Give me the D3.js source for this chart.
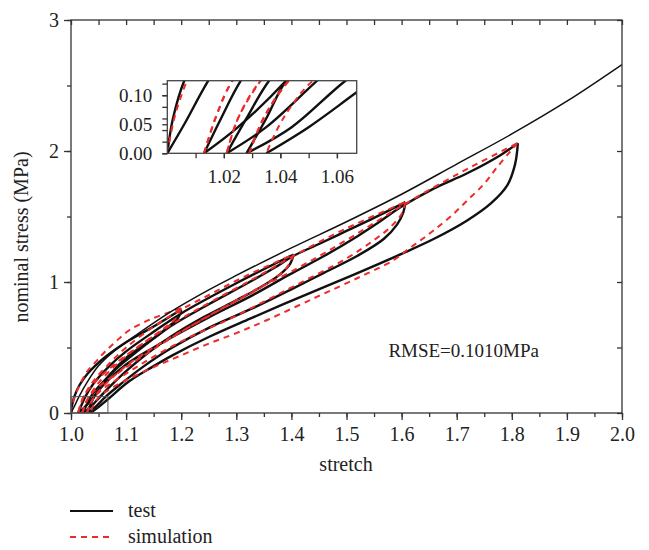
<!DOCTYPE html>
<html>
<head>
<meta charset="utf-8">
<script src="https://cdn.jsdelivr.net/npm/d3@7/dist/d3.min.js"></script>
<style>
  body { margin: 0; background: #fff; }
  svg text { font-family: "Liberation Serif", "DejaVu Serif", serif; fill: #222; }
</style>
</head>
<body>
<div id="graph"></div>
<script>
// [stretch, nominal stress (MPa)]
// test: monotonic loading up to 2.0
const testMono = [[1.0,0],[1.006,0.05],[1.0145,0.125],[1.03,0.24],[1.05,0.36],[1.075,0.46],[1.12,0.6],
  [1.18,0.77],[1.25,0.94],[1.3,1.05],[1.4,1.26],[1.5,1.46],[1.6,1.67],[1.7,1.9],[1.8,2.13],[1.9,2.38],[2.0,2.66]];
// test: cyclic loading / unloading
const testLoad1 = [[1.0,0],[1.002,0.06],[1.006,0.125],[1.015,0.21],[1.03,0.3],[1.06,0.42],[1.1,0.54],[1.15,0.66],[1.2,0.79]];
const testUnload1 = [[1.2,0.79],[1.195,0.73],[1.18,0.67],[1.15,0.57],[1.1,0.42],[1.07,0.29],[1.042,0.125],[1.025,0.045],[1.013,0]];
const testLoad2 = [[1.013,0],[1.019,0.06],[1.026,0.125],[1.04,0.22],[1.07,0.36],[1.1,0.47],[1.15,0.62],[1.2,0.76],[1.3,0.99],[1.404,1.21]];
const testUnload2 = [[1.404,1.21],[1.398,1.14],[1.38,1.06],[1.344,0.96],[1.3,0.86],[1.24,0.73],[1.18,0.58],[1.14,0.46],[1.1,0.32],[1.075,0.22],[1.053,0.125],[1.035,0.045],[1.021,0]];
const testLoad3 = [[1.021,0],[1.028,0.06],[1.036,0.125],[1.05,0.2],[1.08,0.33],[1.12,0.47],[1.18,0.66],[1.25,0.83],[1.32,0.99],[1.37,1.11],[1.404,1.2],[1.45,1.29],[1.5,1.39],[1.55,1.49],[1.607,1.61]];
const testUnload3 = [[1.607,1.61],[1.603,1.53],[1.592,1.44],[1.568,1.33],[1.52,1.2],[1.459,1.07],[1.398,0.94],[1.33,0.8],[1.25,0.65],[1.18,0.49],[1.13,0.35],[1.09,0.22],[1.063,0.125],[1.044,0.045],[1.028,0]];
const testLoad4 = [[1.028,0],[1.035,0.06],[1.042,0.125],[1.06,0.22],[1.1,0.37],[1.15,0.5],[1.25,0.73],[1.33,0.9],[1.398,1.06],[1.46,1.2],[1.52,1.35],[1.56,1.46],[1.598,1.57],[1.659,1.715],[1.719,1.83],[1.78,1.97],[1.811,2.06]];
const testUnload4 = [[1.811,2.06],[1.806,1.9],[1.792,1.74],[1.762,1.6],[1.719,1.47],[1.659,1.33],[1.6,1.215],[1.507,1.045],[1.416,0.885],[1.325,0.72],[1.25,0.58],[1.184,0.44],[1.147,0.35],[1.105,0.24],[1.067,0.105],[1.05,0.045],[1.035,0]];

// simulation
const simLoad1 = [[1.0,0],[1.003,0.07],[1.01,0.16],[1.02,0.25],[1.03,0.32],[1.047,0.4],[1.062,0.47],[1.08,0.54],[1.105,0.63],[1.147,0.72],[1.2,0.8]];
const simUnload1 = [[1.2,0.8],[1.19,0.72],[1.17,0.65],[1.13,0.53],[1.1,0.44],[1.07,0.34],[1.04,0.22],[1.023,0.125],[1.017,0.06],[1.013,0]];
const simLoad2 = [[1.013,0],[1.017,0.06],[1.023,0.125],[1.04,0.24],[1.07,0.38],[1.1,0.5],[1.15,0.66],[1.2,0.79],[1.25,0.9],[1.3,1.01],[1.35,1.11],[1.404,1.21]];
const simUnload2 = [[1.404,1.21],[1.39,1.1],[1.36,1.0],[1.32,0.9],[1.27,0.79],[1.2,0.62],[1.14,0.46],[1.09,0.32],[1.05,0.2],[1.033,0.125],[1.025,0.06],[1.021,0]];
const simLoad3 = [[1.021,0],[1.025,0.06],[1.033,0.125],[1.05,0.23],[1.08,0.36],[1.12,0.5],[1.2,0.72],[1.259,0.86],[1.338,1.04],[1.404,1.2],[1.5,1.41],[1.607,1.61]];
const simUnload3 = [[1.607,1.61],[1.6,1.52],[1.58,1.42],[1.55,1.32],[1.5,1.18],[1.41,0.98],[1.35,0.85],[1.289,0.72],[1.216,0.58],[1.15,0.43],[1.1,0.3],[1.06,0.19],[1.043,0.125],[1.034,0.06],[1.029,0]];
const simLoad4 = [[1.029,0],[1.034,0.06],[1.043,0.125],[1.06,0.21],[1.1,0.36],[1.15,0.5],[1.25,0.74],[1.33,0.93],[1.4,1.08],[1.5,1.32],[1.6,1.58],[1.7,1.82],[1.75,1.93],[1.81,2.06]];
const simUnload4 = [[1.81,2.06],[1.798,2.0],[1.774,1.88],[1.75,1.75],[1.72,1.626],[1.689,1.5],[1.659,1.397],[1.635,1.32],[1.61,1.244],[1.586,1.168],[1.525,1.04],[1.447,0.888],[1.356,0.71],[1.3,0.61],[1.25,0.53],[1.2,0.44],[1.15,0.35],[1.1,0.25],[1.07,0.18],[1.0515,0.125],[1.041,0.06],[1.035,0]];

const xTicks = [1.0,1.1,1.2,1.3,1.4,1.5,1.6,1.7,1.8,1.9,2.0];
const yTicks = [0,1,2,3];
const insetXTicks = [1.02,1.04,1.06];
const insetYTicks = [0,0.05,0.10];
const rmseText = "RMSE=0.1010MPa";
const legendNames = ["test","simulation"];

const testCurves = [testLoad1,testUnload1,testLoad2,testUnload2,testLoad3,testUnload3,testLoad4,testUnload4];
const simCurves = [simLoad1,simUnload1,simLoad2,simUnload2,simLoad3,simUnload3,simLoad4,simUnload4];

const width = 649, height = 550;
const svg = d3.select("#graph").append("svg")
    .attr("width", width).attr("height", height)
    .style("background", "#fff");

const x = d3.scaleLinear().domain([1, 2]).range([71, 622]);
const y = d3.scaleLinear().domain([0, 3]).range([413, 20]);

svg.append("clipPath").attr("id", "mainClip")
  .append("rect").attr("x", 71).attr("y", 20).attr("width", 551).attr("height", 393);

function drawCurves(g, sx, sy) {
    const line = d3.line()
        .x(d => sx(d[0])).y(d => sy(d[1]))
        .curve(d3.curveCatmullRom.alpha(0.5));
    g.selectAll("path.test").data(testCurves).enter().append("path")
        .attr("class", "test")
        .attr("d", line).attr("fill", "none")
        .attr("stroke", "#111").attr("stroke-width", 2.4)
        .attr("stroke-linejoin", "round");
    g.selectAll("path.sim").data(simCurves).enter().append("path")
        .attr("class", "sim")
        .attr("d", line).attr("fill", "none")
        .attr("stroke", "#ee2a2a").attr("stroke-width", 2)
        .attr("stroke-dasharray", "6,5");
    return line;
}

const plot = svg.append("g").attr("clip-path", "url(#mainClip)");
const mainLine = drawCurves(plot, x, y);
plot.append("path").datum(testMono)
    .attr("d", mainLine).attr("fill", "none")
    .attr("stroke", "#111").attr("stroke-width", 1.5);

// frame
svg.append("rect").attr("x", 71).attr("y", 20).attr("width", 551).attr("height", 393)
    .attr("fill", "none").attr("stroke", "#333").attr("stroke-width", 1.3);

// axes
function styleAxis(g) {
    g.select(".domain").remove();
    g.selectAll(".tick line").attr("stroke", "#333").attr("stroke-width", 1.3);
    g.selectAll(".tick text").attr("font-size", 20).attr("fill", "#222")
      .style("font-family", '"Liberation Serif", serif');
}
svg.append("g").attr("transform", "translate(0,413)")
    .call(d3.axisBottom(x).ticks(20).tickSize(4).tickFormat("")).call(styleAxis);
svg.append("g").attr("transform", "translate(0,413)")
    .call(d3.axisBottom(x).tickValues(xTicks).tickSize(7).tickPadding(7).tickFormat(d3.format(".1f"))).call(styleAxis);
svg.append("g").attr("transform", "translate(0,20)")
    .call(d3.axisTop(x).ticks(20).tickSize(-5).tickFormat("")).call(styleAxis);
svg.append("g").attr("transform", "translate(71,0)")
    .call(d3.axisLeft(y).ticks(6).tickSize(4).tickFormat("")).call(styleAxis);
svg.append("g").attr("transform", "translate(71,0)")
    .call(d3.axisLeft(y).tickValues(yTicks).tickSize(7).tickPadding(5).tickFormat(d3.format("d"))).call(styleAxis);
svg.append("g").attr("transform", "translate(622,0)")
    .call(d3.axisRight(y).ticks(6).tickSize(-5).tickFormat("")).call(styleAxis);

svg.append("text").attr("x", 346).attr("y", 471).attr("text-anchor", "middle")
    .attr("font-size", 20).text("stretch");
svg.append("text").attr("transform", "translate(28,237) rotate(-90)").attr("text-anchor", "middle")
    .attr("font-size", 20).text("nominal stress (MPa)");

svg.append("text").attr("x", x(1.576)).attr("y", y(0.43)).attr("font-size", 19).text(rmseText);

// zoom window marker
svg.append("rect")
    .attr("x", x(1.0)).attr("y", y(0.125))
    .attr("width", x(1.067) - x(1.0)).attr("height", y(0) - y(0.125))
    .attr("fill", "none").attr("stroke", "#555").attr("stroke-width", 1);

// inset
const ix = d3.scaleLinear().domain([1.0, 1.067]).range([167.3, 356.7]);
const iy = d3.scaleLinear().domain([0, 0.125]).range([153.3, 80.7]);
svg.append("clipPath").attr("id", "insetClip")
  .append("rect").attr("x", 167.3).attr("y", 80.7).attr("width", 189.4).attr("height", 72.6);
svg.append("rect").attr("x", 167.3).attr("y", 80.7).attr("width", 189.4).attr("height", 72.6)
    .attr("fill", "#fff");
const inset = svg.append("g").attr("clip-path", "url(#insetClip)");
const insetLine = drawCurves(inset, ix, iy);
inset.append("path").datum(testMono)
    .attr("d", insetLine).attr("fill", "none")
    .attr("stroke", "#111").attr("stroke-width", 2.4);
svg.append("rect").attr("x", 167.3).attr("y", 80.7).attr("width", 189.4).attr("height", 72.6)
    .attr("fill", "none").attr("stroke", "#444").attr("stroke-width", 1.3);

function styleInset(g) {
    styleAxis(g);
    g.selectAll(".tick text").attr("font-size", 19);
}
svg.append("g").attr("transform", "translate(0,153.3)")
    .call(d3.axisBottom(ix).tickValues([1.01,1.02,1.03,1.04,1.05,1.06]).tickSize(5).tickFormat("")).call(styleInset);
svg.append("g").attr("transform", "translate(0,153.3)")
    .call(d3.axisBottom(ix).tickValues(insetXTicks).tickSize(5).tickPadding(11).tickFormat(d3.format(".2f"))).call(styleInset);
svg.append("g").attr("transform", "translate(167.3,0)")
    .call(d3.axisLeft(iy).ticks(5).tickSize(5).tickFormat("")).call(styleInset);
svg.append("g").attr("transform", "translate(167.3,0)")
    .call(d3.axisLeft(iy).tickValues(insetYTicks).tickSize(5).tickPadding(10).tickFormat(d3.format(".2f"))).call(styleInset);

// legend
const legend = svg.append("g");
legendNames.forEach((name, i) => {
    const ly = 511 + i * 26;
    legend.append("line").attr("x1", 70).attr("x2", 113).attr("y1", ly).attr("y2", ly)
        .attr("stroke", i === 0 ? "#111" : "#ee2a2a").attr("stroke-width", 2)
        .attr("stroke-dasharray", i === 0 ? null : "6,5");
    legend.append("text").attr("x", 128).attr("y", ly + 6).attr("font-size", 20).text(name);
});
</script>
</body>
</html>
